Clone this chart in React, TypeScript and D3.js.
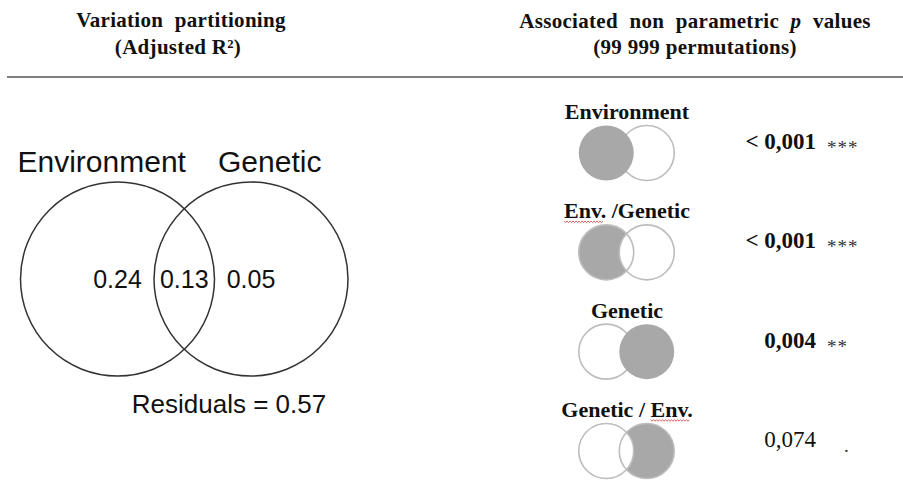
import { useEffect, useRef } from 'react';
import * as d3 from 'd3';

// left panel: variation partitioning (adjusted R²)
const vennSets = ['Environment', 'Genetic'];
const vennFractions = [0.24, 0.13, 0.05];
const residual = 0.57;

// right panel: permutation tests
const testLabels = ['Environment', 'Env. /Genetic', 'Genetic', 'Genetic / Env.'];
const shadedSet = [0, 0, 1, 1];
const conditional = [false, true, false, true];
const pValues = ['< 0,001', '< 0,001', '0,004', '0,074'];
const signifCodes = ['***', '***', '**', '.'];
const boldP = [true, true, true, false];

const W = 903;
const H = 494;
const sans = "'Liberation Sans', Arial, sans-serif";
const serif = "'Liberation Serif', 'Times New Roman', serif";

const bigR = 97;
const bigY = 279;
const bigX = d3.scaleLinear().domain([0, 1]).range([117.5, 251]);

const smallR = 27.5;
const smallCx = 626.5;
const smallOff = 20.25;
const rowY = d3.scalePoint<number>().domain(d3.range(testLabels.length)).range([153, 451]);

const fmt = d3.format('.2f');

const Label = ({ text, x, y }: { text: string; x: number; y: number }) => {
  const parts = text.split(/(Env\.)/).filter(p => p !== '');
  return (
    <text x={x} y={y} textAnchor="middle" fontFamily={serif} fontWeight="bold" fontSize={22} fill="#111">
      {parts.map((p, i) => (
        <tspan key={i} className={p === 'Env.' ? 'spell' : undefined}>{p}</tspan>
      ))}
    </text>
  );
};

const SmallVenn = ({ i }: { i: number }) => {
  const cy = rowY(i) ?? 0;
  const xs = [smallCx - smallOff, smallCx + smallOff];
  const s = shadedSet[i];
  const o = 1 - s;
  const fillGray = '#a8a8a8';
  const line = '#bdbdbd';
  if (!conditional[i]) {
    return (
      <g>
        <circle cx={xs[o]} cy={cy} r={smallR} fill="#fff" stroke={line} strokeWidth={1.6} />
        <circle cx={xs[s]} cy={cy} r={smallR} fill={fillGray} />
      </g>
    );
  }
  return (
    <g>
      <circle cx={xs[s]} cy={cy} r={smallR} fill={fillGray} />
      <circle cx={xs[o]} cy={cy} r={smallR} fill="#fff" />
      <circle cx={xs[o]} cy={cy} r={smallR} fill="none" stroke={line} strokeWidth={1.6} />
      <circle cx={xs[s]} cy={cy} r={smallR} fill="none" stroke={line} strokeWidth={1.6} />
    </g>
  );
};

export default function App() {
  const svgRef = useRef<SVGSVGElement>(null);
  const cx = [bigX(0), bigX(1)];
  const numX = [bigX(0), bigX(0.5), bigX(1)];

  // red wavy spell-check underline under "Env."
  useEffect(() => {
    if (!svgRef.current) return;
    const svg = d3.select(svgRef.current);
    svg.selectAll('.wavy').remove();
    svg.selectAll<SVGTSpanElement, unknown>('tspan.spell').each(function () {
      const b = this.getBBox();
      const y0 = b.y + b.height - 2;
      const pts: [number, number][] = [];
      for (let x = b.x, k = 0; x <= b.x + b.width - 3; x += 1.5, k++) pts.push([x, y0 + (k % 2 ? 1.2 : -0.2)]);
      svg.append('path')
        .attr('class', 'wavy')
        .attr('d', d3.line()(pts))
        .attr('fill', 'none')
        .attr('stroke', '#d8484b')
        .attr('stroke-width', 0.9);
    });
  }, []);

  return (
    <svg ref={svgRef} width={W} height={H} style={{ position: 'absolute', left: 0, top: 0, background: '#fff' }}>
      {/* headers */}
      <g fontFamily={serif} fontWeight="bold" fontSize={21} fill="#111" textAnchor="middle" style={{ letterSpacing: '0.3px' }}>
        <text x={181} y={27} style={{ wordSpacing: '6px' }}>Variation partitioning</text>
        <text x={178} y={54}>(Adjusted R²)</text>
        <text x={695} y={28} style={{ wordSpacing: '6px' }}>
          Associated non parametric <tspan fontStyle="italic">p</tspan> values
        </text>
        <text x={695} y={54}>(99 999 permutations)</text>
      </g>
      <line x1={7} x2={W} y1={77} y2={77} stroke="#555" strokeWidth={1.5} />

      {/* big venn */}
      {cx.map((x, i) => (
        <circle key={i} cx={x} cy={bigY} r={bigR} fill="none" stroke="#333" strokeWidth={1.5} />
      ))}
      <g fontFamily={sans} fill="#111">
        <text x={cx[0] - 100} y={172} fontSize={30}>{vennSets[0]}</text>
        <text x={cx[1] - 33} y={172} fontSize={30}>{vennSets[1]}</text>
        {vennFractions.map((v, i) => (
          <text key={i} x={numX[i]} y={288} fontSize={25} textAnchor="middle">{fmt(v)}</text>
        ))}
        <text x={229} y={413} fontSize={26} textAnchor="middle">Residuals = {fmt(residual)}</text>
      </g>

      {/* tests */}
      {testLabels.map((lab, i) => {
        const y = rowY(i) ?? 0;
        return (
          <g key={lab}>
            <Label text={lab} x={627} y={y - 34} />
            <SmallVenn i={i} />
            <text x={816} y={y - 4} textAnchor="end" fontFamily={serif} fontSize={23} fontWeight={boldP[i] ? 'bold' : 'normal'} fill="#111">
              {pValues[i]}
            </text>
            <text x={signifCodes[i] === '.' ? 844 : 827} y={y + 1} fontFamily={serif} fontSize={19} fill="#333" style={{ letterSpacing: '1px' }}>
              {signifCodes[i]}
            </text>
          </g>
        );
      })}
    </svg>
  );
}
